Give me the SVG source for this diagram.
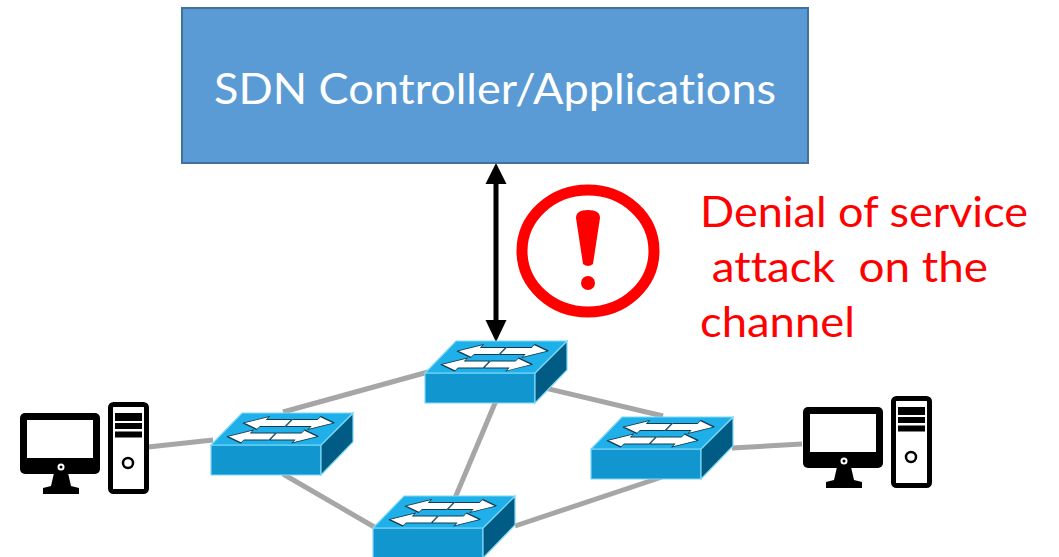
<svg xmlns="http://www.w3.org/2000/svg" width="1059" height="557" viewBox="0 0 1059 557">
  <style>
    .link { stroke: #a6a6a6; stroke-width: 5; fill: none; }
    .title { font-family: Lato, "Open Sans", sans-serif; font-size: 43px; fill: #ffffff; font-variant-ligatures: none; }
    .warn { font-family: Lato, "Open Sans", sans-serif; font-size: 42px; fill: #ff0000; font-variant-ligatures: none; }
    .blk { fill: #000000; }
    .wht { fill: #ffffff; }
  </style>
  <defs>
    <!-- workgroup switch, origin at the front-left top corner -->
    <g id="switch">
      <polygon points="0,0 110,0 110,30 0,30" fill="#1196cf" stroke="#7fd8f8" stroke-width="1.2"/>
      <polygon points="110,0 142,-32 142,-3 110,30" fill="#005c84" stroke="#7fd8f8" stroke-width="1.2"/>
      <polygon points="0,0 31,-32 142,-32 110,0" fill="#1fb0ea" stroke="#7fd8f8" stroke-width="1.2"/>
      <g transform="skewX(-44)" fill="#ffffff" stroke="#123a52" stroke-width="0.9" stroke-linejoin="round">
        <polygon points="11,-22 31,-28.5 31,-25.5 56,-25.5 56,-18.5 31,-18.5 31,-15.5"/>
        <polygon points="102,-22 82,-28.5 82,-25.5 57,-25.5 57,-18.5 82,-18.5 82,-15.5"/>
        <polygon points="8,-8.5 28,-15 28,-12 53,-12 53,-5 28,-5 28,-2"/>
        <polygon points="99,-8.5 79,-15 79,-12 54,-12 54,-5 79,-5 79,-2"/>
      </g>
    </g>
    <!-- desktop computer: monitor and tower -->
    <g id="pc">
      <rect x="0" y="11" width="80" height="61" rx="5" class="blk"/>
      <rect x="7" y="18" width="66" height="38" class="wht"/>
      <circle cx="41" cy="65" r="3.5" class="wht"/>
      <circle cx="41" cy="65" r="1.5" class="blk"/>
      <polygon points="34,71 48,71 51,84 59,86 59,92 23,92 23,86 31,84" class="blk"/>
      <rect x="90.5" y="2.5" width="36" height="87" rx="3" fill="#ffffff" stroke="#000000" stroke-width="5"/>
      <rect x="95" y="11" width="27" height="8" class="blk"/>
      <rect x="95" y="21" width="27" height="6" class="blk"/>
      <rect x="95" y="29.5" width="27" height="6" class="blk"/>
      <circle cx="108" cy="61" r="5" fill="none" stroke="#000000" stroke-width="2.5"/>
    </g>
  </defs>

  <!-- links between hosts and switches, plus the control channel -->
  <g id="connectors">
    <line class="link" x1="148" y1="447" x2="213" y2="440"/>
    <line class="link" x1="283" y1="412" x2="428" y2="372"/>
    <line class="link" x1="486" y1="374" x2="663" y2="416"/>
    <line class="link" x1="498" y1="396" x2="455" y2="498"/>
    <line class="link" x1="283" y1="474" x2="376" y2="528"/>
    <line class="link" x1="515" y1="526" x2="662" y2="477"/>
    <line class="link" x1="732" y1="448" x2="802" y2="444"/>
    <g id="control-channel" fill="#000000">
      <line x1="496" y1="180" x2="496" y2="325" stroke="#000000" stroke-width="5"/>
      <polygon points="496,163 506.5,184 485.5,184"/>
      <polygon points="496,342 506.5,320 485.5,320"/>
    </g>
  </g>

  <g id="controller">
    <rect x="182" y="8" width="626" height="155" fill="#5b9bd5" stroke="#41719c" stroke-width="2"/>
    <text class="title" x="214" y="104" textLength="562" lengthAdjust="spacingAndGlyphs">SDN Controller/Applications</text>
  </g>

  <g id="switch-top"><use href="#switch" x="425" y="373"/></g>
  <g id="switch-left"><use href="#switch" x="211" y="445"/></g>
  <g id="switch-bottom"><use href="#switch" x="373" y="528"/></g>
  <g id="switch-right"><use href="#switch" x="591" y="449"/></g>

  <g id="host-left"><use href="#pc" x="20" y="402"/></g>
  <g id="host-right"><use href="#pc" x="803" y="396"/></g>

  <g id="alert">
    <ellipse cx="588" cy="251" rx="66" ry="61" fill="none" stroke="#ff0000" stroke-width="11"/>
    <path d="M576,218 Q576,210 588,210 Q600,210 600,218 L593,264 Q588,268 583,264 Z" fill="#ff0000"/>
    <circle cx="588" cy="283" r="7" fill="#ff0000"/>
  </g>

  <g id="alert-label">
    <text class="warn" x="700" y="227" textLength="328" lengthAdjust="spacingAndGlyphs">Denial of service</text>
    <text class="warn" x="700" y="282" xml:space="preserve" textLength="288" lengthAdjust="spacingAndGlyphs"> attack  on the</text>
    <text class="warn" x="700" y="337" textLength="155" lengthAdjust="spacingAndGlyphs">channel</text>
  </g>
</svg>
